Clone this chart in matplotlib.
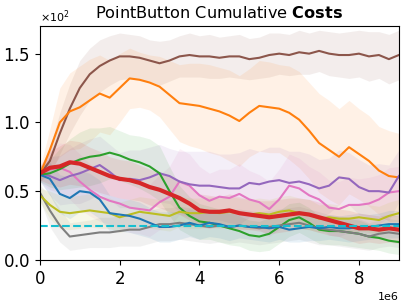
import numpy as np
import matplotlib
matplotlib.use("Agg")
import matplotlib.pyplot as plt

# steps (x1e6), sampled every 0.25e6
steps = np.arange(37) * 0.25e6

brown = [62, 72, 92, 110, 125, 135, 141, 145, 148, 148, 147, 145, 143, 145, 148, 149, 148, 148, 147,
         148, 148, 146, 147, 149, 150, 149, 151, 150, 152, 150, 149, 149, 150, 148, 149, 146, 149]
orange = [62, 80, 100, 108, 111, 116, 121, 118, 125, 132, 131, 129, 126, 120, 114, 113, 112, 110, 108,
          105, 101, 107, 112, 111, 110, 107, 102, 94, 85, 80, 75, 82, 77, 72, 65, 61, 60]
green = [62, 63, 66, 70, 73, 75, 76, 78, 76, 73, 71, 68, 63, 50, 38, 32, 28, 27, 25,
         23, 21, 18, 17, 19, 24, 29, 31, 27, 22, 21, 21, 20, 19, 17, 16, 14, 13]
red = [63, 67, 68, 71, 70, 67, 64, 61, 59, 58, 56, 53, 51, 48, 45, 41, 36, 35, 35,
       36, 34, 33, 32, 31, 32, 33, 34, 33, 31, 29, 27, 25, 23, 23, 22, 23, 22]
purple = [63, 61, 58, 61, 63, 66, 69, 64, 58, 59, 58, 60, 63, 61, 57, 55, 54, 54, 53,
          52, 52, 56, 55, 57, 58, 56, 57, 55, 52, 54, 60, 59, 53, 50, 50, 49, 61]
pink = [62, 66, 67, 64, 57, 51, 46, 43, 41, 38, 37, 36, 42, 46, 57, 54, 47, 43, 46,
        45, 48, 44, 42, 37, 44, 54, 52, 47, 44, 38, 37, 40, 40, 41, 44, 49, 50]
blue = [62, 59, 48, 45, 50, 49, 44, 34, 33, 32, 30, 27, 24, 24, 25, 27, 25, 27, 26,
        24, 25, 24, 24, 23, 24, 22, 23, 24, 23, 24, 23, 23, 24, 24, 25, 26, 26]
gray = [49, 36, 25, 17, 18, 19, 20, 20, 21, 22, 22, 24, 26, 26, 27, 26, 25, 24, 25,
        24, 25, 24, 23, 24, 25, 26, 27, 25, 23, 22, 21, 20, 19, 17, 19, 20, 19]
olive = [47, 40, 35, 34, 35, 36, 35, 34, 31, 33, 35, 34, 33, 32, 35, 34, 34, 35, 34,
         35, 34, 33, 34, 33, 35, 36, 34, 33, 30, 31, 30, 30, 31, 30, 29, 32, 34]

# spread (std) of each run
brown_sd = [5, 10, 15, 18, 20, 19, 19, 18, 17, 16, 16, 15, 16, 15, 15, 16, 15, 16, 15,
            15, 16, 15, 15, 16, 15, 15, 16, 15, 15, 16, 16, 17, 17, 18, 17, 18, 18]
orange_sd = [5, 15, 25, 28, 30, 30, 28, 27, 25, 22, 20, 20, 22, 25, 28, 30, 31, 32, 32,
             33, 33, 32, 33, 33, 32, 34, 35, 35, 36, 36, 35, 34, 33, 33, 32, 33, 32]
green_sd = [5, 10, 15, 18, 20, 21, 20, 19, 18, 18, 19, 20, 20, 18, 16, 14, 13, 12, 12,
            12, 11, 11, 11, 12, 12, 12, 11, 11, 10, 10, 10, 10, 10, 9, 9, 9, 9]
red_sd = [5, 12, 15, 16, 16, 15, 15, 14, 14, 14, 13, 13, 13, 13, 12, 12, 12, 12, 11,
          12, 12, 11, 11, 12, 12, 12, 11, 11, 11, 11, 10, 11, 11, 10, 10, 10, 10]
purple_sd = [5, 14, 18, 20, 22, 22, 21, 20, 20, 21, 22, 22, 21, 20, 22, 24, 25, 25, 24,
             25, 26, 25, 24, 25, 24, 23, 22, 22, 21, 20, 20, 19, 20, 19, 20, 20, 19]
pink_sd = [5, 15, 18, 20, 20, 19, 18, 17, 18, 18, 18, 19, 20, 22, 24, 23, 21, 20, 20,
           21, 22, 21, 20, 20, 22, 23, 22, 21, 20, 20, 20, 20, 19, 19, 18, 18, 18]
blue_sd = [5, 12, 14, 15, 15, 14, 14, 13, 12, 12, 12, 11, 11, 11, 10, 10, 10, 10, 10,
           10, 9, 9, 10, 10, 9, 9, 10, 10, 9, 9, 9, 10, 10, 9, 9, 10, 10]
gray_sd = [5, 12, 12, 10, 10, 10, 11, 11, 11, 12, 12, 12, 12, 12, 12, 12, 12, 12, 12,
           12, 12, 12, 12, 12, 12, 12, 12, 12, 12, 11, 11, 11, 11, 10, 10, 10, 10]
olive_sd = [5, 10, 12, 12, 12, 12, 12, 11, 11, 11, 11, 11, 11, 11, 11, 11, 11, 11, 11,
            11, 11, 11, 11, 11, 11, 11, 11, 11, 10, 10, 10, 10, 10, 10, 10, 10, 10]

cost_limit = 25

series = [
    (brown, brown_sd, "tab:brown", 1.5),
    (orange, orange_sd, "tab:orange", 1.5),
    (pink, pink_sd, "tab:pink", 1.5),
    (purple, purple_sd, "tab:purple", 1.5),
    (green, green_sd, "tab:green", 1.5),
    (gray, gray_sd, "tab:gray", 1.5),
    (olive, olive_sd, "tab:olive", 1.5),
    (blue, blue_sd, "tab:blue", 1.5),
    (red, red_sd, "tab:red", 3.0),
]

fig = plt.figure(figsize=(4.07, 3.04), dpi=100)
ax = fig.add_axes([0.098, 0.145, 0.882, 0.769])

for mean, sd, color, lw in series:
    mean = np.array(mean, dtype=float)
    sd = np.array(sd, dtype=float)
    ax.fill_between(steps, mean - sd, mean + sd, color=color, alpha=0.1, linewidth=0)
for mean, sd, color, lw in series:
    ax.plot(steps, mean, color=color, linewidth=lw)

ax.axhline(cost_limit, color="tab:cyan", linestyle="--", linewidth=1.5)

ax.set_xlim(0, 9e6)
ax.set_ylim(0, 170)
ax.set_yticks([0, 50, 100, 150])
ax.ticklabel_format(axis="y", style="sci", scilimits=(0, 0), useMathText=True)
ax.tick_params(labelsize=12)
ax.yaxis.get_offset_text().set_fontsize(8)
ax.xaxis.get_offset_text().set_fontsize(8)
ax.set_title(r"PointButton Cumulative $\mathbf{Costs}$", fontsize=11.6)

fig.savefig("out.png", dpi=100)
